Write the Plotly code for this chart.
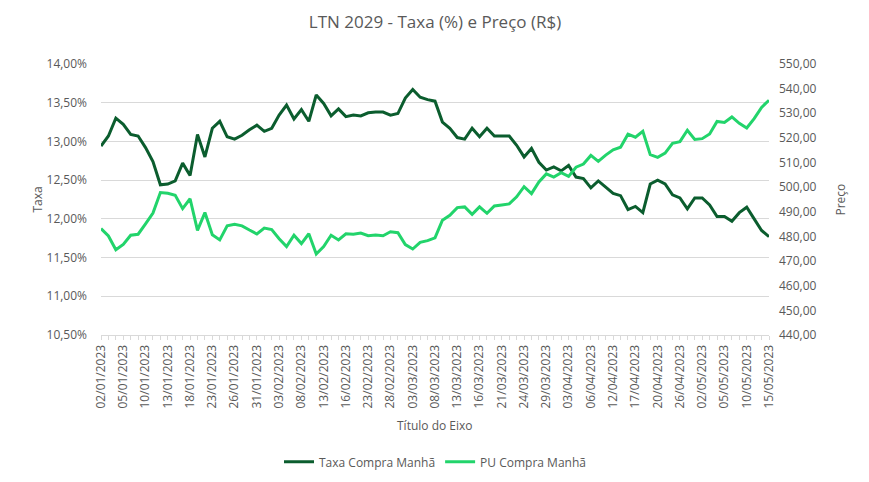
import plotly.graph_objects as go

dates = [
    "02/01/2023", "03/01/2023", "04/01/2023", "05/01/2023", "06/01/2023", "09/01/2023", "10/01/2023",
    "11/01/2023", "12/01/2023", "13/01/2023", "16/01/2023", "17/01/2023", "18/01/2023", "19/01/2023",
    "20/01/2023", "23/01/2023", "24/01/2023", "25/01/2023", "26/01/2023", "27/01/2023", "30/01/2023",
    "31/01/2023", "01/02/2023", "02/02/2023", "03/02/2023", "06/02/2023", "07/02/2023", "08/02/2023",
    "09/02/2023", "10/02/2023", "13/02/2023", "14/02/2023", "15/02/2023", "16/02/2023", "17/02/2023",
    "22/02/2023", "23/02/2023", "24/02/2023", "27/02/2023", "28/02/2023", "01/03/2023", "02/03/2023",
    "03/03/2023", "06/03/2023", "07/03/2023", "08/03/2023", "09/03/2023", "10/03/2023", "13/03/2023",
    "14/03/2023", "15/03/2023", "16/03/2023", "17/03/2023", "20/03/2023", "21/03/2023", "22/03/2023",
    "23/03/2023", "24/03/2023", "27/03/2023", "28/03/2023", "29/03/2023", "30/03/2023", "31/03/2023",
    "03/04/2023", "04/04/2023", "05/04/2023", "06/04/2023", "10/04/2023", "11/04/2023", "12/04/2023",
    "13/04/2023", "14/04/2023", "17/04/2023", "18/04/2023", "19/04/2023", "20/04/2023", "24/04/2023",
    "25/04/2023", "26/04/2023", "27/04/2023", "28/04/2023", "02/05/2023", "03/05/2023", "04/05/2023",
    "05/05/2023", "08/05/2023", "09/05/2023", "10/05/2023", "11/05/2023", "12/05/2023", "15/05/2023",
]

taxa = [
    12.94, 13.07, 13.30, 13.22, 13.09, 13.07, 12.92, 12.74, 12.44, 12.45,
    12.49, 12.72, 12.56, 13.09, 12.80, 13.17, 13.26, 13.06, 13.03, 13.08,
    13.15, 13.21, 13.13, 13.17, 13.34, 13.47, 13.29, 13.41, 13.26, 13.60,
    13.49, 13.33, 13.42, 13.32, 13.34, 13.33, 13.37, 13.38, 13.38, 13.34,
    13.36, 13.56, 13.67, 13.57, 13.54, 13.52, 13.25, 13.17, 13.05, 13.03,
    13.17, 13.06, 13.17, 13.07, 13.07, 13.07, 12.95, 12.80, 12.91, 12.73,
    12.63, 12.67, 12.62, 12.69, 12.54, 12.52, 12.40, 12.49, 12.41, 12.33,
    12.30, 12.12, 12.16, 12.08, 12.45, 12.50, 12.45, 12.31, 12.27, 12.13,
    12.27, 12.27, 12.18, 12.03, 12.03, 11.97, 12.08, 12.15, 12.00, 11.85,
    11.77,
]

pu = [
    483.2, 480.2, 474.6, 476.8, 480.5, 480.9, 485.1, 489.5, 497.8, 497.5,
    496.7, 491.3, 495.3, 482.5, 489.7, 480.7, 478.6, 484.3, 484.9, 484.3,
    482.6, 481.0, 483.4, 482.8, 479.1, 475.9, 480.5, 477.1, 481.1, 472.9,
    475.9, 480.5, 478.6, 481.1, 480.9, 481.4, 480.3, 480.6, 480.3, 481.9,
    481.5, 476.7, 474.9, 477.6, 478.3, 479.4, 486.6, 488.6, 491.7, 492.0,
    489.0, 492.0, 489.4, 492.4, 492.8, 493.2, 496.1, 500.2, 497.4, 502.1,
    505.4, 504.1, 505.9, 504.4, 508.1, 509.4, 512.9, 510.5, 513.0, 515.2,
    516.2, 521.5, 520.3, 522.7, 513.2, 512.1, 513.8, 517.8, 518.5, 523.1,
    519.4, 519.7, 521.6, 526.7, 526.3, 528.5, 525.9, 524.0, 527.8, 532.4,
    535.3,
]

tick_text = [d if i % 3 == 0 else "" for i, d in enumerate(dates)]

DARK = "#0B5D2E"
LIGHT = "#22D46B"
GREY_TXT = "#595959"
FONT = "Open Sans"

fig = go.Figure()
fig.add_trace(go.Scatter(x=dates, y=taxa, name="Taxa Compra Manhã", mode="lines",
                         line=dict(color=DARK, width=3), yaxis="y"))
fig.add_trace(go.Scatter(x=dates, y=pu, name="PU Compra Manhã", mode="lines",
                         line=dict(color=LIGHT, width=3), yaxis="y2"))

fig.update_layout(
    width=869, height=482,
    paper_bgcolor="white", plot_bgcolor="white",
    margin=dict(l=101, r=100, t=64, b=147, autoexpand=False),
    separators=",.",
    font=dict(family=FONT, size=12, color=GREY_TXT),
    title=dict(text="LTN 2029 - Taxa (%) e Preço (R$)", x=0.5, xanchor="center",
               y=1 - 22 / 482, yanchor="middle", xref="paper", automargin=False,
               font=dict(family=FONT, size=17, color=GREY_TXT)),
    xaxis=dict(type="category", categoryorder="array", categoryarray=dates, automargin=False,
               range=[0, len(dates) - 1], tickmode="array", tickvals=dates, ticktext=tick_text,
               tickangle=-90, showgrid=False, showline=True, linecolor="#D9D9D9", linewidth=1,
               ticks="outside", ticklen=4, tickcolor="#D9D9D9", zeroline=False,
               tickfont=dict(size=12, color=GREY_TXT)),
    yaxis=dict(range=[10.5, 14.0], dtick=0.5, tick0=10.5, tickformat=".2f", ticksuffix="%",
               automargin=False,
               showgrid=True, gridcolor="#D9D9D9", gridwidth=1, zeroline=False, showline=False,
               ticklabelstandoff=13, tickfont=dict(size=12, color=GREY_TXT)),
    yaxis2=dict(range=[440, 550], dtick=10, tick0=440, tickformat=".2f", overlaying="y", side="right",
                automargin=False,
                showgrid=False, zeroline=False, showline=False, ticklabelstandoff=9,
                tickfont=dict(size=12, color=GREY_TXT)),
    legend=dict(orientation="h", x=0.5, xanchor="center", y=-0.468, yanchor="middle",
                font=dict(size=12, color=GREY_TXT), bgcolor="rgba(0,0,0,0)"),
    showlegend=True,
    annotations=[
        dict(text="Taxa", xref="paper", yref="paper", x=(37 - 101) / 668, y=0.5,
             textangle=-90, showarrow=False, xanchor="center", yanchor="middle",
             font=dict(size=12, color=GREY_TXT)),
        dict(text="Preço", xref="paper", yref="paper", x=(840 - 101) / 668, y=0.5,
             textangle=-90, showarrow=False, xanchor="center", yanchor="middle",
             font=dict(size=12, color=GREY_TXT)),
        dict(text="Título do Eixo", xref="paper", yref="paper", x=(435 - 101) / 668,
             y=(335 - 425) / 271, showarrow=False, xanchor="center", yanchor="middle",
             font=dict(size=12, color=GREY_TXT)),
    ],
)

fig.write_html("out.html", config={"displayModeBar": False},
               post_script="document.body.style.margin='0';")
